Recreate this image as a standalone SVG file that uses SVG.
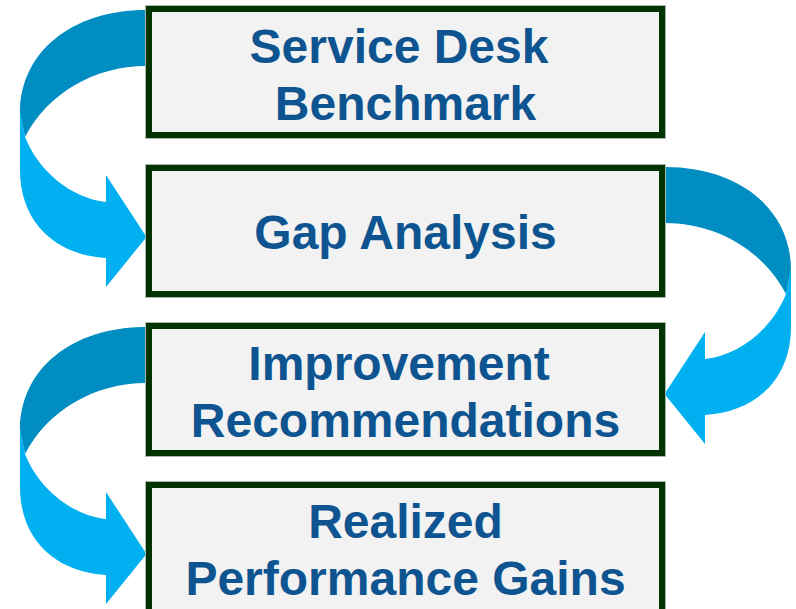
<svg xmlns="http://www.w3.org/2000/svg" width="796" height="609" viewBox="0 0 796 609">
<style>
.box{fill:#F2F2F2;stroke:#003300;stroke-width:6}
.edge{fill:none;stroke:#a9b8a9;stroke-width:1}
.lbl{font-family:"Liberation Sans",Arial,sans-serif;font-weight:bold;font-size:48px;fill:#0D5490;text-anchor:middle}
.dark{fill:#008DC1}
.light{fill:#00B0F0}
</style>
<defs>
<g id="curl">
<path class="dark" d="M150,10 L146,10 C72,10 20,52 20,113 L25,137 C48,93 95,66 146,66 L150,66 Z"/>
<path class="light" d="M20,112 L20,170 C20,222 55,255 106,258 L106,287 L146.5,237 L106,175 L106,202 C70,198 38,170 25,137 Z"/>
</g>
</defs>
<g id="connectors">
<use href="#curl"/>
<use href="#curl" transform="translate(811,157) scale(-1,1)"/>
<use href="#curl" transform="translate(0,317)"/>
</g>
<g id="node1">
<rect class="edge" x="145.5" y="5.5" width="520" height="133"/>
<rect class="box" x="149" y="9" width="513" height="126"/>
<text class="lbl" x="399" y="63">Service Desk</text>
<text class="lbl" x="405.5" y="120">Benchmark</text>
</g>
<g id="node2">
<rect class="edge" x="145.5" y="164.5" width="520" height="133"/>
<rect class="box" x="149" y="168" width="513" height="126"/>
<text class="lbl" x="405.5" y="249">Gap Analysis</text>
</g>
<g id="node3">
<rect class="edge" x="145.5" y="322.5" width="520" height="134"/>
<rect class="box" x="149" y="326" width="513" height="127"/>
<text class="lbl" x="399" y="380">Improvement</text>
<text class="lbl" x="405.5" y="437">Recommendations</text>
</g>
<g id="node4">
<rect class="edge" x="145.5" y="481.5" width="520" height="134"/>
<rect class="box" x="149" y="485" width="513" height="127"/>
<text class="lbl" x="405.5" y="538">Realized</text>
<text class="lbl" x="405.5" y="595">Performance Gains</text>
</g>
</svg>
